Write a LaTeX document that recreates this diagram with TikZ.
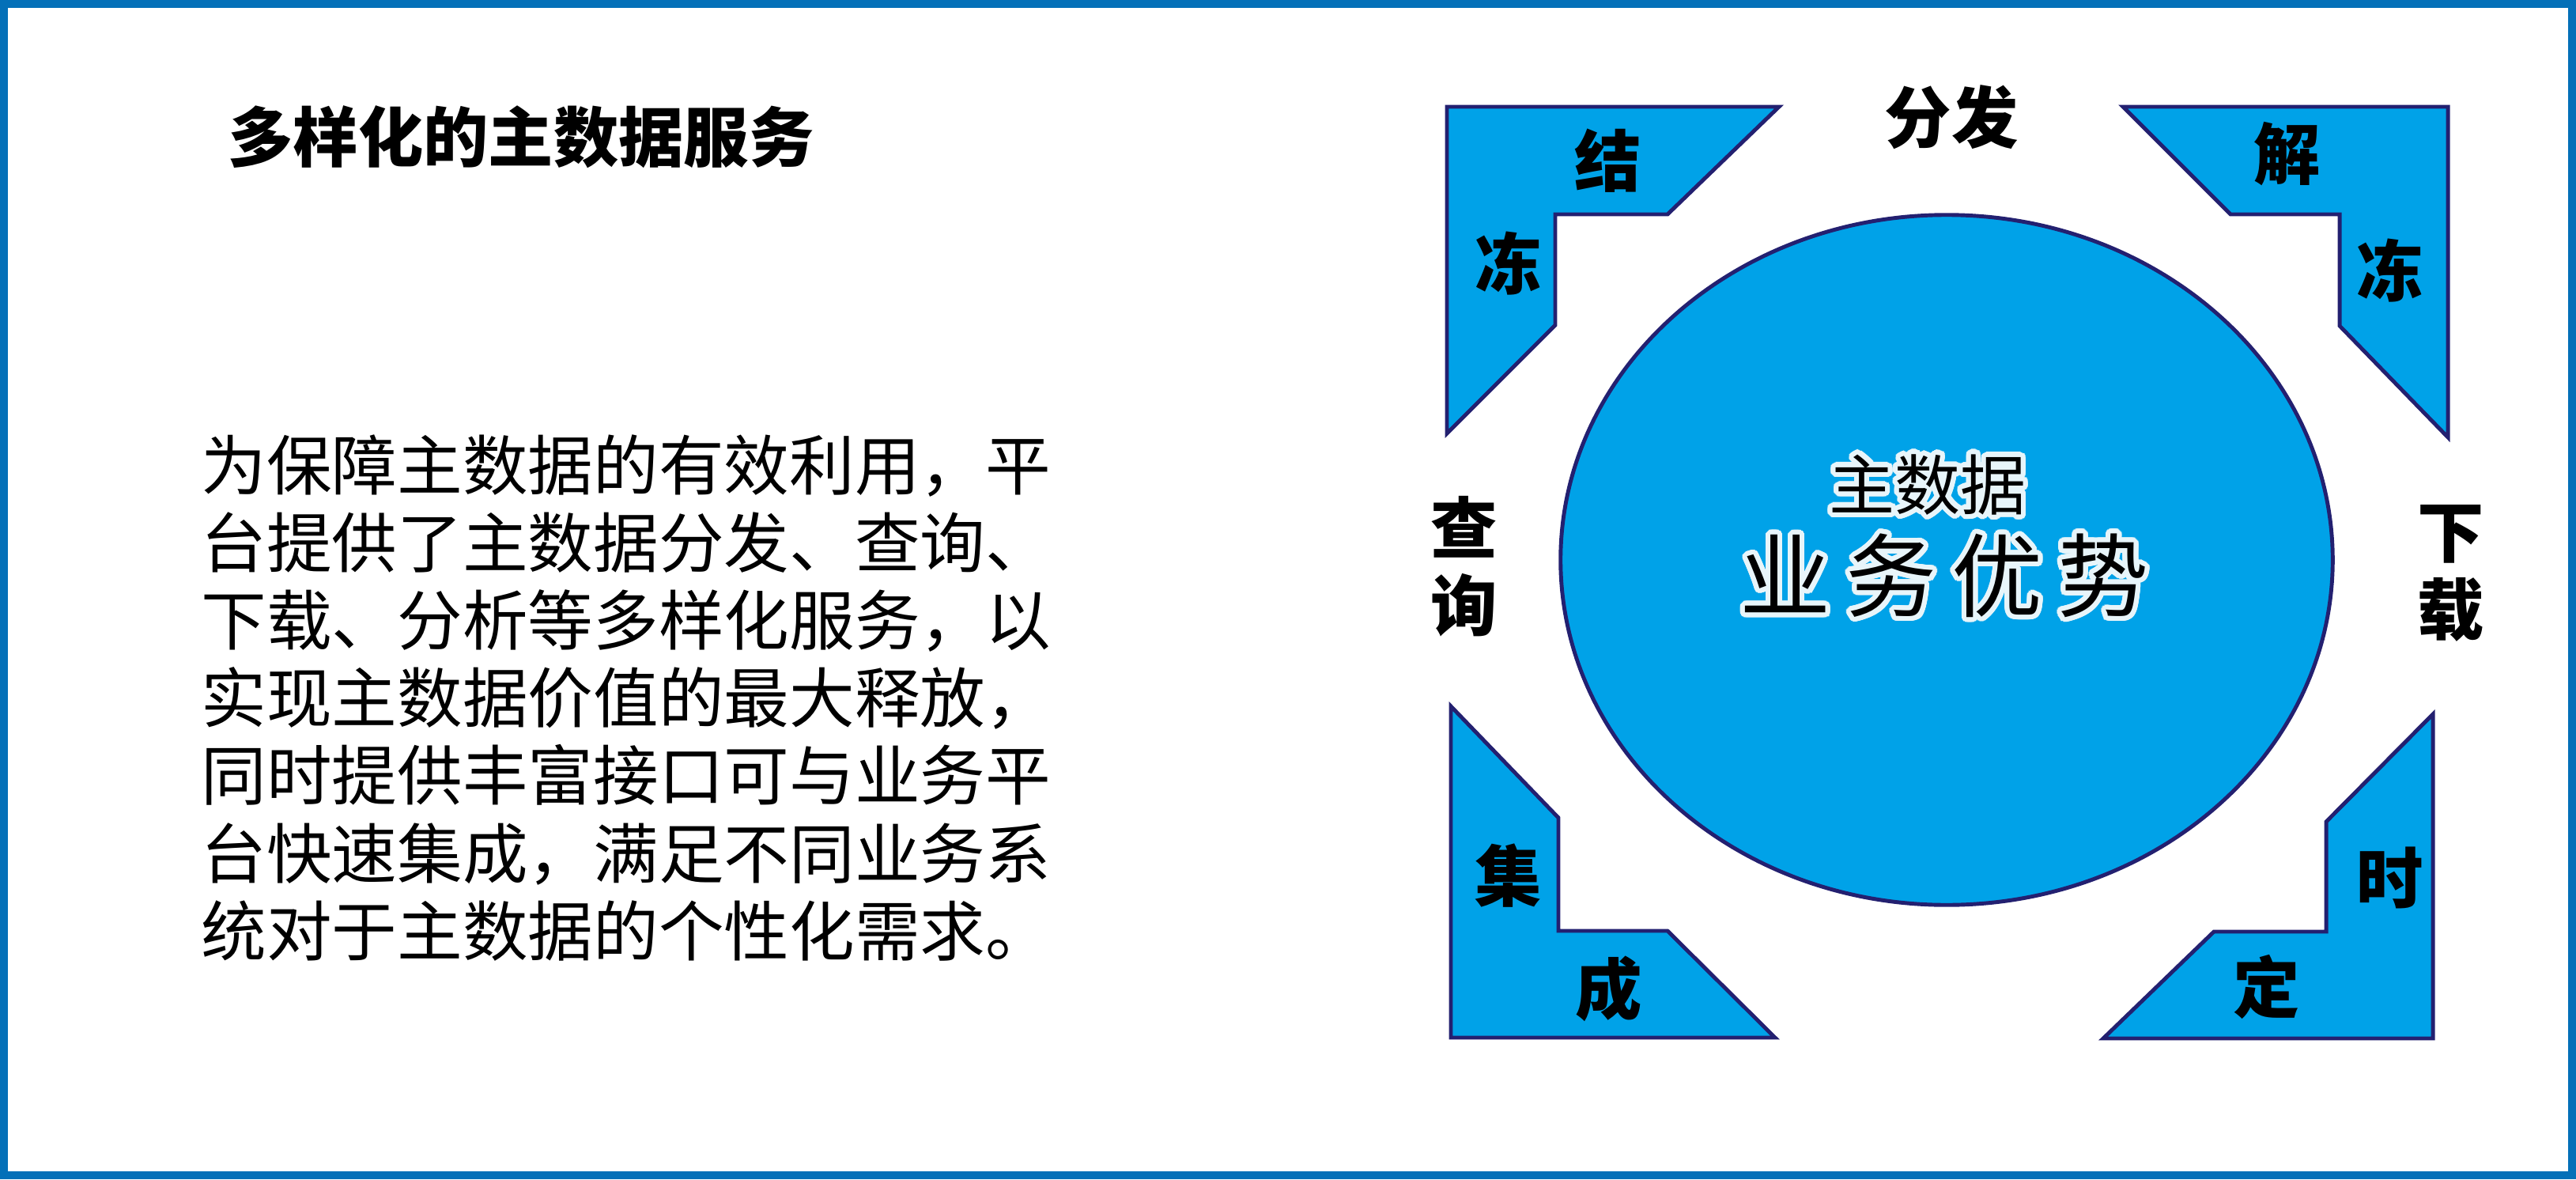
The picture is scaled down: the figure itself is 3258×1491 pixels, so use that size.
\documentclass[tikz,border=0pt]{standalone}
\usepackage{fontspec}
\usepackage{contour}
\usepackage{tikz}
\usetikzlibrary{shapes.geometric}
\newfontfamily\cjk{Noto Sans CJK SC}
\definecolor{frameblue}{RGB}{4,112,184}
\definecolor{cornerblue}{RGB}{0,162,232}
\definecolor{edgenavy}{RGB}{35,32,112}
\definecolor{rimwhite}{RGB}{232,245,250}
\contourlength{1.8pt}
\contournumber{32}

\begin{document}
\begin{tikzpicture}[x=0.01cm,y=-0.01cm,
    corner/.style={fill=cornerblue,draw=edgenavy,line width=1.4pt,line join=miter},
    tag/.style={font=\cjk\bfseries\fontsize{24}{27.8}\selectfont,inner sep=0pt,align=center},
    heading/.style={font=\cjk\bfseries\fontsize{23.4}{28}\selectfont,inner sep=0pt},
    body/.style={font=\cjk\fontsize{23.5}{27.9}\selectfont,inner sep=0pt,align=left},
    glow/.style={inner sep=0pt,text=black}]
  \useasboundingbox (0,0) rectangle (3258,1491);
  \draw[frameblue,line width=0.1cm] (5,5) rectangle (3253,1486);
  % left side text
  \node[heading,anchor=west] (title) at (288,173) {多样化的主数据服务};
  \node[body,anchor=north west] (intro) at (254,549) {为保障主数据的有效利用，平\\台提供了主数据分发、查询、\\下载、分析等多样化服务，以\\实现主数据价值的最大释放，\\同时提供丰富接口可与业务平\\台快速集成，满足不同业务系\\统对于主数据的个性化需求。};
  % four corner pieces
  \draw[corner] (1830,135) --(2250,135) --(2109,271) --(1967,271) --(1967,411) --(1830,548) --cycle;
  \draw[corner] (2685,135) --(3096,135) --(3096,553) --(2959,412) --(2959,271) --(2821,271) --cycle;
  \draw[corner] (1835,893) --(1971,1034) --(1971,1177) --(2109,1177) --(2245,1312) --(1835,1312) --cycle;
  \draw[corner] (3077,903) --(3077,1313) --(2660,1313) --(2800,1178) --(2942,1178) --(2942,1039) --cycle;
  % middle
  \node[ellipse,fill=cornerblue,draw=edgenavy,line width=1.4pt,minimum width=9.76cm,minimum height=8.72cm] (core) at (2462,708) {};
  \node[glow,font=\cjk\fontsize{23.6}{28}\selectfont] (coresub) at (2438,616) {\contour{rimwhite}{主数据}};
  \node[glow,font=\cjk\fontsize{32.7}{38}\selectfont] (coremain) at (2459,731) {\contour{rimwhite}{业\kern5.4pt 务\kern5.4pt 优\kern5.4pt 势}};
  % labels
  \node[tag] (fenfa) at (2468,148) {分发};
  \node[tag] (jie) at (2034,203) {结};
  \node[tag] (dongl) at (1908,333) {冻};
  \node[tag] (jiefree) at (2893,195) {解};
  \node[tag] (dongr) at (3023,342) {冻};
  \node[tag] (chaxun) at (1852,716) {查\\询};
  \node[tag] (xiazai) at (3100,725) {下\\载};
  \node[tag] (ji) at (1908,1107) {集};
  \node[tag] (cheng) at (2035,1250) {成};
  \node[tag] (shi) at (3023,1110) {时};
  \node[tag] (ding) at (2867,1248) {定};
\end{tikzpicture}
\end{document}
